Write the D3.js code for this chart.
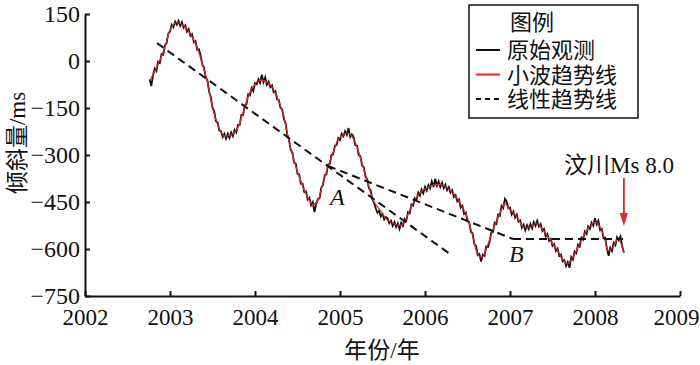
<!DOCTYPE html>
<html>
<head>
<meta charset="utf-8">
<script src="https://cdn.jsdelivr.net/npm/d3@7"></script>
<style>
  body { margin: 0; background: #fff; }
  svg text { font-family: "Liberation Serif", "Noto Sans CJK SC", serif; fill: #111; }
</style>
</head>
<body>
<svg id="chart" width="700" height="365"></svg>
<script>
// raw observation, sampled every 0.02 yr starting at rawStart (倾斜量 ms)
const rawStart = 2002.76;
const rawStep = 0.02;
const rawValues = [
  -58, -80, -46, -24, -32, -2, -6, 22, 20, 50,
  56, 88, 94, 116, 108, 126, 116, 128, 112, 124,
  106, 114, 94, 102, 80, 86, 60, 64, 36, 38,
  18, -12, -20, -54, -60, -98, -114, -150, -160, -192,
  -196, -222, -224, -242, -232, -248, -232, -246, -228, -240,
  -220, -228, -204, -204, -172, -172, -142, -138, -106, -110,
  -86, -96, -70, -74, -58, -70, -44, -68, -52, -76,
  -66, -84, -78, -100, -96, -122, -124, -150, -154, -186,
  -198, -236, -250, -284, -292, -324, -328, -360, -362, -392,
  -392, -418, -416, -442, -436, -460, -450, -482, -456, -440,
  -438, -404, -396, -364, -362, -330, -328, -300, -298, -270,
  -268, -246, -252, -232, -240, -224, -236, -214, -242, -234,
  -242, -268, -270, -300, -304, -334, -338, -370, -376, -406,
  -412, -440, -452, -470, -484, -478, -496, -488, -506, -498,
  -502, -518, -510, -526, -514, -530, -518, -536, -516, -526,
  -504, -510, -482, -486, -458, -462, -438, -444, -420, -430,
  -410, -422, -402, -414, -396, -406, -384, -402, -376, -398,
  -384, -402, -388, -406, -394, -412, -402, -420, -412, -434,
  -428, -448, -442, -468, -462, -488, -484, -512, -514, -546,
  -550, -584, -590, -620, -616, -640, -618, -622, -592, -594,
  -576, -548, -546, -516, -520, -490, -494, -462, -470, -440,
  -448, -470, -468, -490, -480, -500, -490, -512, -508, -532,
  -522, -540, -524, -536, -520, -534, -514, -526, -510, -528,
  -520, -542, -536, -560, -552, -574, -568, -590, -584, -606,
  -598, -622, -618, -640, -636, -654, -642, -660, -626, -634,
  -608, -614, -586, -592, -564, -570, -544, -552, -528, -536,
  -516, -526, -502, -522, -510, -540, -536, -566, -564, -598,
  -622, -596, -606, -580, -588, -562, -572, -560, -590, -612
];

// wavelet trend
const trendYears = [
  2002.765, 2002.882, 2002.941, 2003.0, 2003.059, 2003.094, 2003.153, 2003.235, 2003.318, 2003.376,
  2003.435, 2003.494, 2003.553, 2003.624, 2003.671, 2003.741, 2003.8, 2003.859, 2003.918, 2003.976,
  2004.035, 2004.082, 2004.141, 2004.2, 2004.259, 2004.329, 2004.388, 2004.435, 2004.494, 2004.565,
  2004.624, 2004.682, 2004.741, 2004.8, 2004.859, 2004.918, 2004.976, 2005.035, 2005.094, 2005.153,
  2005.212, 2005.271, 2005.329, 2005.388, 2005.471, 2005.553, 2005.671, 2005.729, 2005.788, 2005.859,
  2005.941, 2006.024, 2006.094, 2006.212, 2006.329, 2006.412, 2006.494, 2006.565, 2006.624, 2006.671,
  2006.729, 2006.8, 2006.882, 2006.941, 2007.0, 2007.082, 2007.153, 2007.235, 2007.318, 2007.388,
  2007.471, 2007.553, 2007.624, 2007.671, 2007.741, 2007.824, 2007.906, 2008.0, 2008.059, 2008.118,
  2008.153, 2008.212, 2008.271, 2008.294, 2008.34
];
const trendValues = [
  -62, 3, 45, 99, 121, 122, 115, 89, 45, -6,
  -61, -140, -198, -236, -239, -233, -211, -166, -115, -83,
  -64, -61, -67, -83, -115, -166, -243, -294, -348, -402,
  -437, -458, -444, -389, -338, -294, -252, -236, -230, -246,
  -284, -338, -389, -444, -476, -507, -523, -523, -498, -453,
  -421, -405, -396, -396, -421, -453, -498, -562, -619, -626,
  -594, -539, -485, -455, -475, -498, -528, -530, -517, -539,
  -571, -603, -635, -648, -625, -581, -539, -514, -530, -571,
  -605, -594, -565, -574, -612
];

// linear trends
const linearSegments = [
  { years: [2002.847, 2006.294], values: [57, -616] },
  { years: [2004.859, 2007.035], values: [-335, -568] },
  { years: [2007.035, 2008.33], values: [-568, -568] }
];

const yTicks = [150, 0, -150, -300, -450, -600, -750];
const xTicks = [2002, 2003, 2004, 2005, 2006, 2007, 2008, 2009];
const legendItems = ["原始观测", "小波趋势线", "线性趋势线"];

const RED = "#e3262a";
const svg = d3.select("#chart");

const x = d3.scaleLinear().domain([2002, 2009]).range([85, 680]);
const y = d3.scaleLinear().domain([-750, 150]).range([296, 14]);

// axes
const gy = svg.append("g").attr("transform", "translate(85,0)")
  .call(d3.axisLeft(y).tickValues(yTicks).tickSizeInner(-5).tickSizeOuter(0).tickPadding(5));
const gx = svg.append("g").attr("transform", "translate(0,296)")
  .call(d3.axisBottom(x).tickValues(xTicks).tickFormat(d3.format("d"))
    .tickSizeInner(-5).tickSizeOuter(0).tickPadding(13));

[gy, gx].forEach(g => {
  g.select(".domain").attr("stroke", "#111").attr("stroke-width", 2);
  g.selectAll(".tick line").attr("stroke", "#111").attr("stroke-width", 2);
  g.selectAll(".tick text").attr("font-size", 24).attr("font-family", "Liberation Serif").attr("fill", "#111");
});
gx.selectAll(".tick text").attr("font-size", 23);
gx.selectAll(".tick text").filter(d => d === 2009).attr("dx", -4);

// series
const rawData = rawValues.map((v, i) => [rawStart + i * rawStep, v]);
const line = d3.line().x(d => x(d[0])).y(d => y(d[1]));

svg.append("path")
  .datum(rawData)
  .attr("fill", "none").attr("stroke", "#111").attr("stroke-width", 1.8)
  .attr("d", line);

svg.append("path")
  .datum(d3.zip(trendYears, trendValues))
  .attr("fill", "none").attr("stroke", RED).attr("stroke-width", 1.2)
  .attr("d", d3.line().x(d => x(d[0])).y(d => y(d[1])).curve(d3.curveCatmullRom.alpha(0.5)));

svg.selectAll(".lin").data(linearSegments).enter().append("path")
  .attr("class", "lin")
  .attr("fill", "none").attr("stroke", "#111").attr("stroke-width", 2)
  .attr("stroke-dasharray", "8,5")
  .attr("d", s => line(d3.zip(s.years, s.values)));

// annotations
svg.append("text").attr("x", 330).attr("y", 205)
  .attr("font-size", 24).attr("font-style", "italic").text("A");
svg.append("text").attr("x", 509).attr("y", 262)
  .attr("font-size", 24).attr("font-style", "italic").text("B");

svg.append("text").attr("x", 564).attr("y", 173).attr("font-size", 23)
  .text("汶川Ms 8.0");

const ax = x(2008.34);
svg.append("line").attr("x1", ax).attr("x2", ax).attr("y1", 178).attr("y2", 216)
  .attr("stroke", RED).attr("stroke-width", 1.8);
svg.append("path")
  .attr("d", `M${ax - 4},${213} L${ax + 4},${213} L${ax},${226} Z`)
  .attr("fill", RED);

// axis titles
svg.append("text").attr("x", 382).attr("y", 358).attr("text-anchor", "middle")
  .attr("font-size", 23).text("年份/年");
svg.append("text")
  .attr("transform", "translate(25,143) rotate(-90)")
  .attr("text-anchor", "middle").attr("font-size", 23).text("倾斜量/ms");

// legend
const lg = svg.append("g");
lg.append("rect").attr("x", 469).attr("y", 5).attr("width", 169).attr("height", 113)
  .attr("fill", "#fff").attr("stroke", "#111").attr("stroke-width", 1.5);
lg.append("text").attr("x", 532).attr("y", 30).attr("text-anchor", "middle")
  .attr("font-size", 22).text("图例");
const rows = lg.selectAll(".row").data(legendItems).enter().append("g")
  .attr("class", "row")
  .attr("transform", (d, i) => `translate(0,${50 + i * 24.5})`);
rows.append("line").attr("x1", 476).attr("x2", 500).attr("y1", 0).attr("y2", 0)
  .attr("stroke", (d, i) => i === 1 ? RED : "#111").attr("stroke-width", 2)
  .attr("stroke-dasharray", (d, i) => i === 2 ? "5,4" : null);
rows.append("text").attr("x", 507).attr("y", 8).attr("font-size", 22).text(d => d);
</script>
</body>
</html>
